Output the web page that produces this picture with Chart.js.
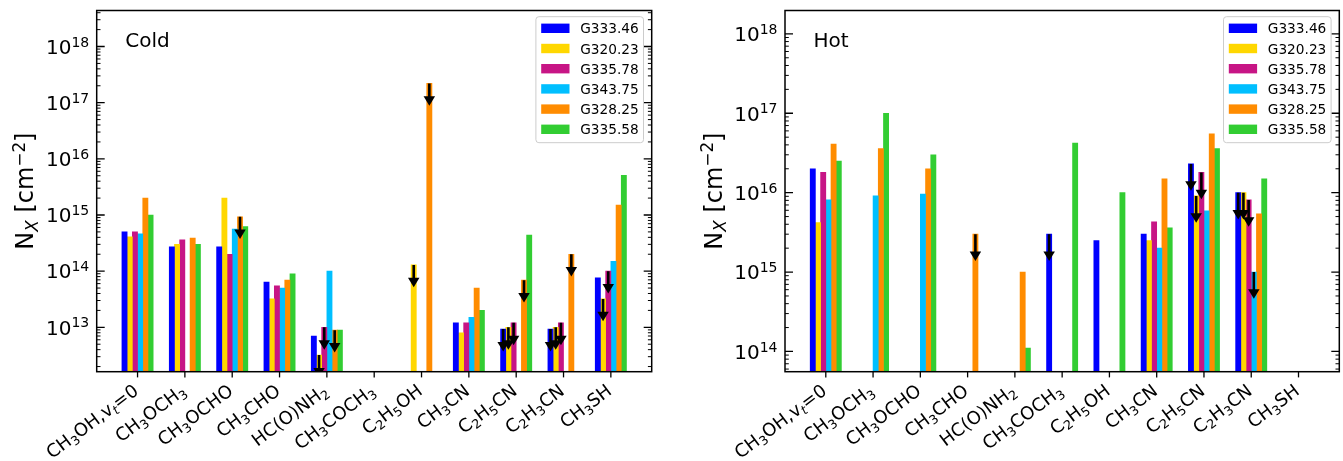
<!DOCTYPE html>
<html><head><meta charset="utf-8">
<script src="https://cdn.jsdelivr.net/npm/chart.js@4.4.1/dist/chart.umd.min.js"></script>
<style>
html,body{margin:0;padding:0;background:#fff;}
#wrap{position:relative;width:1343px;height:461px;overflow:hidden;background:#fff;}
canvas{position:absolute;top:0;}
</style></head><body>
<div id="wrap">
<canvas id="cold" width="672" height="461" style="left:0px"></canvas>
<canvas id="hot" width="671" height="461" style="left:672px"></canvas>
</div>
<script>
// ---------------- data ----------------
const molecules = ['CH_3OH,v_t=0','CH_3OCH_3','CH_3OCHO','CH_3CHO','HC(O)NH_2','CH_3COCH_3','C_2H_5OH','CH_3CN','C_2H_5CN','C_2H_3CN','CH_3SH'];
const sources = ['G333.46','G320.23','G335.78','G343.75','G328.25','G335.58'];
const sourceColors = ['#0000ff','#ffd700','#c71585','#00bfff','#ff8c00','#32cd32'];

// Cold component column densities (cm^-2), null = not shown
const coldG33346 = [5.0e14, 2.7e14, 2.7e14, 6.4e13, 7.0e12, null, null,   1.2e13, 9.3e12, 9.3e12, 7.6e13];
const coldG32023 = [4.1e14, 3.0e14, 2.0e15, 3.2e13, 3.2e12, null, 1.29e14, 8.0e12, 1.0e13, 1.0e13, 3.2e13];
const coldG33578 = [5.0e14, 3.6e14, 2.0e14, 5.5e13, 1.0e13, null, null,   1.2e13, 1.2e13, 1.2e13, 1.0e14];
const coldG34375 = [4.6e14, null,   5.6e14, 5.0e13, 1.0e14, null, null,   1.5e13, null,   null,   1.5e14];
const coldG32825 = [2.0e15, 3.9e14, 9.3e14, 6.9e13, 8.9e12, null, 2.2e17, 5.0e13, 6.9e13, 2.0e14, 1.5e15];
const coldG33558 = [1.0e15, 3.0e14, 6.2e14, 9.0e13, 8.9e12, null, null,   2.0e13, 4.4e14, null,   5.1e15];
// indices of upper limits (arrows)
const coldUL_G33346 = [8, 9];
const coldUL_G32023 = [4, 6, 8, 9, 10];
const coldUL_G33578 = [4, 8, 9, 10];
const coldUL_G34375 = [];
const coldUL_G32825 = [2, 4, 6, 8, 9];
const coldUL_G33558 = [];

// Hot component
const hotG33346 = [2.0e16, null,   null,   null,   null,   3.0e15, 2.5e15, 3.0e15, 2.3e16, 1.0e16, null];
const hotG32023 = [4.2e15, null,   null,   null,   null,   null,   null,   2.5e15, 9.1e15, 1.0e16, null];
const hotG33578 = [1.8e16, null,   null,   null,   null,   null,   null,   4.3e15, 1.8e16, 8.1e15, null];
const hotG34375 = [8.1e15, 9.1e15, 9.6e15, null,   null,   null,   null,   2.0e15, 5.9e15, 1.0e15, null];
const hotG32825 = [4.1e16, 3.6e16, 2.0e16, 3.0e15, 1.0e15, null,   null,   1.49e16, 5.5e16, 5.4e15, null];
const hotG33558 = [2.5e16, 1.0e17, 3.0e16, null,   1.1e14, 4.2e16, 1.0e16, 3.6e15, 3.6e16, 1.49e16, null];
const hotUL_G33346 = [5, 8, 9];
const hotUL_G32023 = [8, 9];
const hotUL_G33578 = [8, 9];
const hotUL_G34375 = [9];
const hotUL_G32825 = [3];
const hotUL_G33558 = [];

const coldTickExponents = [13, 14, 15, 16, 17, 18];
const hotTickExponents = [14, 15, 16, 17, 18];
const yTitle = 'N_{X} [cm^{\u22122}]';

// ---------------- layout / style ----------------
const FONT = '"DejaVu Sans", sans-serif';
const BAR_W = 0.11;
const X_MIN = -0.863, X_MAX = 10.863;
const XLABEL_SIZE = 18;
const XLABEL_ANGLE = 37;

function parseRich(s) {
  const parts = []; let buf = ''; let i = 0;
  while (i < s.length) {
    const c = s[i];
    if (c === '_' || c === '^') {
      if (buf) { parts.push({t: buf, m: 0}); buf = ''; }
      let t;
      if (s[i+1] === '{') { const j = s.indexOf('}', i+2); t = s.slice(i+2, j); i = j + 1; }
      else { t = s[i+1]; i += 2; }
      parts.push({t, m: c === '_' ? -1 : 1});
    } else { buf += c; i++; }
  }
  if (buf) parts.push({t: buf, m: 0});
  return parts;
}
function partFont(p, size) {
  const s = p.m === 0 ? size : size * 0.7;
  const it = (p.m !== 0 && /[A-Za-z]/.test(p.t)) ? 'italic ' : '';
  return it + s + 'px ' + FONT;
}
function richWidth(ctx, parts, size) {
  let w = 0;
  for (const p of parts) { ctx.font = partFont(p, size); w += ctx.measureText(p.t).width; }
  return w;
}
function drawRich(ctx, parts, size, x, y) {
  let cx = x;
  ctx.textBaseline = 'alphabetic'; ctx.textAlign = 'left';
  for (const p of parts) {
    ctx.font = partFont(p, size);
    const dy = p.m === 1 ? -size * 0.36 : (p.m === -1 ? size * 0.2 : 0);
    ctx.fillText(p.t, cx, y + dy);
    cx += ctx.measureText(p.t).width;
  }
}

function makePlugin(cfg) {
  return {
    id: 'panelDecor',
    afterDatasetsDraw(chart) {
      const ctx = chart.ctx, ca = chart.chartArea, ys = chart.scales.y;
      ctx.save();
      ctx.beginPath(); ctx.rect(ca.left, ca.top, ca.right - ca.left, ca.bottom - ca.top); ctx.clip();
      ctx.fillStyle = '#000'; ctx.strokeStyle = '#000';
      cfg.upper.forEach((list, k) => {
        const meta = chart.getDatasetMeta(k);
        list.forEach(i => {
          const el = meta.data[i];
          const v = cfg.values[k][i];
          if (!el || v == null) return;
          const x = el.x, top = el.y;
          const tip = ys.getPixelForValue(v * cfg.arrowFactor);
          const hh = 9.5, hw = 11.5;
          ctx.lineWidth = 2.6;
          ctx.beginPath(); ctx.moveTo(x, top); ctx.lineTo(x, tip - hh + 1); ctx.stroke();
          ctx.beginPath(); ctx.moveTo(x - hw/2, tip - hh); ctx.lineTo(x + hw/2, tip - hh); ctx.lineTo(x, tip); ctx.closePath(); ctx.fill();
        });
      });
      ctx.restore();
    },
    afterDraw(chart) {
      const ctx = chart.ctx, ca = chart.chartArea, ys = chart.scales.y, xs = chart.scales.x;
      ctx.save();
      ctx.strokeStyle = '#000'; ctx.fillStyle = '#000';
      // y ticks (inward, both sides)
      const lo = Math.floor(Math.log10(ys.min)), hi = Math.ceil(Math.log10(ys.max));
      for (let e = lo; e <= hi; e++) {
        for (let m = 1; m <= 9; m++) {
          const v = m * Math.pow(10, e);
          if (v < ys.min || v > ys.max) continue;
          const y = ys.getPixelForValue(v);
          const len = m === 1 ? 8 : 3.8;
          ctx.lineWidth = m === 1 ? 1.3 : 1.0;
          ctx.beginPath();
          ctx.moveTo(ca.left, y); ctx.lineTo(ca.left + len, y);
          ctx.moveTo(ca.right, y); ctx.lineTo(ca.right - len, y);
          ctx.stroke();
        }
      }
      // x ticks (outward, bottom)
      ctx.lineWidth = 1.3;
      molecules.forEach((_, i) => {
        const x = xs.getPixelForValue(i);
        ctx.beginPath(); ctx.moveTo(x, ca.bottom); ctx.lineTo(x, ca.bottom + 5.7); ctx.stroke();
      });
      // frame
      ctx.lineWidth = 1.5;
      ctx.strokeRect(ca.left, ca.top, ca.right - ca.left, ca.bottom - ca.top);
      // y tick labels
      cfg.tickExp.forEach(e => {
        const parts = parseRich('10^{' + e + '}');
        const w = richWidth(ctx, parts, 20);
        const y = ys.getPixelForValue(Math.pow(10, e));
        drawRich(ctx, parts, 20, ca.left - 7.5 - w, y + 7.3);
      });
      // x tick labels, rotated
      molecules.forEach((lab, i) => {
        const parts = parseRich(lab);
        const w = richWidth(ctx, parts, XLABEL_SIZE);
        const x = xs.getPixelForValue(i);
        ctx.save();
        ctx.translate(x + 2, ca.bottom + 21.5);
        ctx.rotate(-XLABEL_ANGLE * Math.PI / 180);
        drawRich(ctx, parts, XLABEL_SIZE, -w, 0);
        ctx.restore();
      });
      // y axis title
      {
        const parts = parseRich(yTitle);
        const w = richWidth(ctx, parts, 24);
        ctx.save();
        ctx.translate(ca.left - 63.4, (ca.top + ca.bottom) / 2);
        ctx.rotate(-Math.PI / 2);
        drawRich(ctx, parts, 24, -w / 2, 0);
        ctx.restore();
      }
      // panel label
      ctx.font = '20px ' + FONT; ctx.textAlign = 'left'; ctx.textBaseline = 'alphabetic';
      ctx.fillText(cfg.title, ca.left + 28.5, ca.top + 36.2);
      // legend
      const bw = 107.6, bh = 126;
      const bx = ca.right - 8.2 - bw, by = ca.top + 6.2;
      ctx.beginPath();
      if (ctx.roundRect) ctx.roundRect(bx, by, bw, bh, 3); else ctx.rect(bx, by, bw, bh);
      ctx.fillStyle = 'rgba(255,255,255,0.8)'; ctx.fill();
      ctx.lineWidth = 1; ctx.strokeStyle = '#cccccc'; ctx.stroke();
      ctx.font = '13.7px ' + FONT;
      sources.forEach((s, k) => {
        const cy = by + 11.6 + k * 20.2;
        ctx.fillStyle = sourceColors[k];
        ctx.fillRect(bx + 5.3, cy - 4.7, 28.3, 9.4);
        ctx.fillStyle = '#000';
        ctx.fillText(s, bx + 44.3, cy + 5);
      });
      ctx.restore();
    }
  };
}

function buildChart(canvasId, cfg) {
  const datasets = cfg.values.map((vals, k) => ({
    label: sources[k],
    data: vals.map((v, i) => ({x: i + (k - 2.5) * BAR_W, y: v})),
    backgroundColor: sourceColors[k],
    borderWidth: 0,
    grouped: false,
    categoryPercentage: 1,
    barPercentage: 1
  }));
  return new Chart(document.getElementById(canvasId), {
    type: 'bar',
    data: {datasets},
    options: {
      responsive: false,
      animation: false,
      devicePixelRatio: 1,
      layout: {padding: cfg.padding},
      plugins: {legend: {display: false}, tooltip: {enabled: false}},
      scales: {
        x: {type: 'linear', min: X_MIN, max: X_MAX, offset: false, display: false},
        y: {type: 'logarithmic', min: cfg.yMin, max: cfg.yMax, display: false}
      }
    },
    plugins: [makePlugin(cfg)]
  });
}

buildChart('cold', {
  title: 'Cold',
  values: [coldG33346, coldG32023, coldG33578, coldG34375, coldG32825, coldG33558],
  upper: [coldUL_G33346, coldUL_G32023, coldUL_G33578, coldUL_G34375, coldUL_G32825, coldUL_G33558],
  tickExp: coldTickExponents,
  yMin: 1.62e12, yMax: 4.38e18,
  arrowFactor: 0.40,
  padding: {left: 96.7, right: 20.3, top: 10.5, bottom: 89.3}
});
buildChart('hot', {
  title: 'Hot',
  values: [hotG33346, hotG32023, hotG33578, hotG34375, hotG32825, hotG33558],
  upper: [hotUL_G33346, hotUL_G32023, hotUL_G33578, hotUL_G34375, hotUL_G32825, hotUL_G33558],
  tickExp: hotTickExponents,
  yMin: 5.56e13, yMax: 1.97e18,
  arrowFactor: 0.46,
  padding: {left: 113, right: 3.7, top: 10.5, bottom: 89.3}
});
</script>
</body></html>
